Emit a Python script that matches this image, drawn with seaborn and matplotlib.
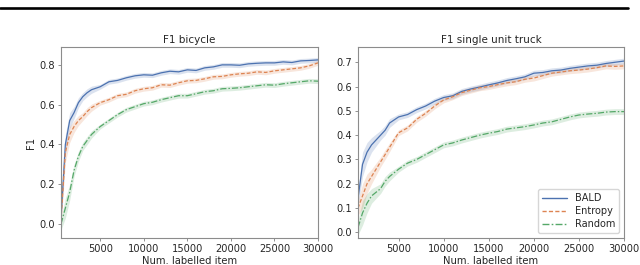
import numpy as np
import pandas as pd
import seaborn as sns
import matplotlib.pyplot as plt
from matplotlib.lines import Line2D

sns.set_theme(style="white")
plt.rcParams['font.family'] = ['DejaVu Sans']

# number of labelled items (x axis)
items = [500, 1000, 1500, 2000, 2500, 3000, 3500, 4000, 5000, 6000, 7000, 8000,
         9000, 10000, 11000, 12000, 13000, 14000, 15000, 16000, 17000, 18000,
         19000, 20000, 21000, 22000, 23000, 24000, 25000, 26000, 27000, 28000,
         29000, 30000]

methods = ['BALD', 'Entropy', 'Random']

# F1 bicycle
bike_bald = [0.03, 0.40, 0.52, 0.56, 0.61, 0.64, 0.66, 0.675, 0.69, 0.715, 0.722, 0.735,
             0.745, 0.75, 0.748, 0.76, 0.768, 0.765, 0.775, 0.772, 0.785, 0.79,
             0.80, 0.80, 0.798, 0.805, 0.808, 0.81, 0.81, 0.815, 0.812, 0.82,
             0.822, 0.825]
bike_entropy = [0.02, 0.36, 0.45, 0.49, 0.52, 0.54, 0.565, 0.585, 0.61, 0.625, 0.645, 0.652,
                0.67, 0.68, 0.685, 0.70, 0.698, 0.71, 0.72, 0.722, 0.73, 0.74,
                0.742, 0.75, 0.755, 0.758, 0.765, 0.762, 0.77, 0.775, 0.78, 0.785,
                0.795, 0.81]
bike_random = [0.0, 0.08, 0.16, 0.27, 0.34, 0.39, 0.42, 0.45, 0.49, 0.52, 0.55, 0.575,
               0.59, 0.605, 0.612, 0.625, 0.635, 0.645, 0.645, 0.655, 0.665, 0.67,
               0.68, 0.682, 0.685, 0.69, 0.695, 0.70, 0.698, 0.705, 0.71, 0.715,
               0.72, 0.718]

# F1 single unit truck
truck_bald = [0.14, 0.28, 0.33, 0.36, 0.38, 0.40, 0.42, 0.45, 0.475, 0.485, 0.505, 0.52,
              0.54, 0.555, 0.562, 0.58, 0.59, 0.598, 0.607, 0.615, 0.625, 0.632,
              0.64, 0.655, 0.658, 0.665, 0.668, 0.675, 0.68, 0.685, 0.688, 0.695,
              0.70, 0.705]
truck_entropy = [0.10, 0.15, 0.20, 0.23, 0.26, 0.29, 0.32, 0.35, 0.41, 0.43, 0.465, 0.49,
                 0.52, 0.545, 0.558, 0.575, 0.585, 0.595, 0.60, 0.608, 0.615, 0.62,
                 0.63, 0.635, 0.645, 0.655, 0.66, 0.665, 0.668, 0.672, 0.678, 0.685,
                 0.683, 0.685]
truck_random = [0.02, 0.08, 0.12, 0.15, 0.165, 0.18, 0.21, 0.23, 0.26, 0.285, 0.30, 0.32,
                0.34, 0.36, 0.368, 0.38, 0.39, 0.40, 0.408, 0.415, 0.425, 0.43,
                0.435, 0.442, 0.45, 0.455, 0.465, 0.475, 0.483, 0.487, 0.49, 0.495,
                0.497, 0.497]

# half width of the shaded bands
band_early = [0.03, 0.05, 0.04, 0.03, 0.025, 0.02, 0.02, 0.018]
band_late = [0.012] * 26
band = band_early + band_late

panels = [
    ('F1 bicycle', [bike_bald, bike_entropy, bike_random], (-0.07, 0.89)),
    ('F1 single unit truck', [truck_bald, truck_entropy, truck_random], (-0.023, 0.763)),
]

colors = sns.color_palette('deep', 3)
palette = dict(zip(methods, colors))
dashes = {'BALD': '', 'Entropy': (3, 1.6), 'Random': (5, 1.6, 1.2, 1.6)}

fig = plt.figure(figsize=(6.4, 2.65), dpi=100)
axes = [fig.add_axes([0.0953, 0.102, 0.4016, 0.7208]),
        fig.add_axes([0.5594, 0.102, 0.4156, 0.7208])]

for ax, (title, series, ylim) in zip(axes, panels):
    rows = []
    for m, vals in zip(methods, series):
        for x, v in zip(items, vals):
            rows.append((x, v, m))
    df = pd.DataFrame(rows, columns=['item', 'F1', 'method'])
    sns.lineplot(data=df, x='item', y='F1', hue='method', style='method',
                 palette=palette, dashes=dashes, linewidth=0.9,
                 errorbar=None, ax=ax, legend=(ax is axes[1]))
    for m, vals in zip(methods, series):
        v = np.array(vals)
        b = np.array(band)
        ax.fill_between(items, v - b, v + b, color=palette[m], alpha=0.2, lw=0)
    ax.set_xlim(500, 30000)
    ax.set_ylim(*ylim)
    ax.set_xticks([5000, 10000, 15000, 20000, 25000, 30000])
    ax.set_title(title, fontsize=7.5, pad=3, color='0.15')
    ax.set_xlabel('Num. labelled item', fontsize=7.2, labelpad=1, color='0.15')
    ax.set_ylabel('')
    ax.tick_params(axis='both', labelsize=7.1, length=2.5, width=0.6,
                   color='0.5', pad=2, labelcolor='0.15', bottom=True, left=True)
    for s in ax.spines.values():
        s.set_color('0.55')
        s.set_linewidth(0.8)

axes[0].set_yticks([0.0, 0.2, 0.4, 0.6, 0.8])
axes[0].set_ylabel('F1', fontsize=7.2, labelpad=2, color='0.15')
axes[1].set_yticks([0.0, 0.1, 0.2, 0.3, 0.4, 0.5, 0.6, 0.7])
leg = axes[1].legend(loc='lower right', fontsize=7, frameon=True,
                     handlelength=2.6, borderpad=0.4, labelspacing=0.3)
leg.get_frame().set_edgecolor('0.8')
for line in leg.get_lines():
    line.set_linewidth(1.0)

# rule from the page header above the figure
fig.add_artist(Line2D([0, 628 / 640], [1 - 7.7 / 265, 1 - 7.7 / 265],
                      color='black', lw=1.9, transform=fig.transFigure))

fig.savefig('out.png', dpi=100)
